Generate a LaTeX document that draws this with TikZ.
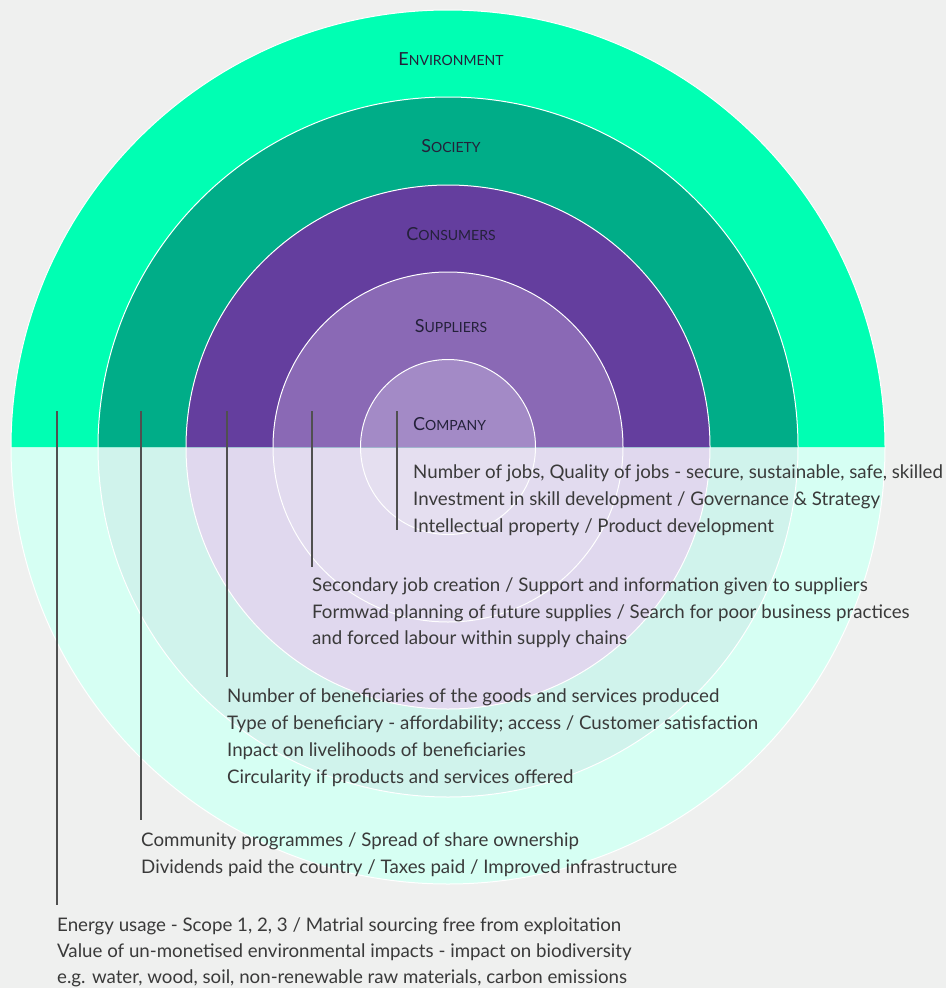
\documentclass[tikz,border=0pt]{standalone}
\usepackage{fontspec}
\setmainfont{Lato}
\definecolor{bg}{HTML}{EFF0EF}
\definecolor{envT}{HTML}{00FFB3}
\definecolor{socT}{HTML}{00AD88}
\definecolor{conT}{HTML}{643E9E}
\definecolor{supT}{HTML}{8A69B5}
\definecolor{comT}{HTML}{A38AC6}
\definecolor{envB}{HTML}{D6FFF3}
\definecolor{socB}{HTML}{D0F3EC}
\definecolor{conB}{HTML}{E0D8EE}
\definecolor{supB}{HTML}{E2DBEF}
\definecolor{comB}{HTML}{E5DFF0}
\definecolor{txt}{HTML}{3A3A3A}
\definecolor{head}{HTML}{24213A}
\definecolor{lead}{HTML}{505050}
\newcommand{\capsc}[2]{{\fontsize{18}{18}\selectfont #1}{\fontsize{14}{14}\selectfont #2}}
\tikzset{
  body/.style={anchor=base west, inner sep=0pt, text=txt, font=\fontsize{18.7}{20}\selectfont},
  heading/.style={anchor=base, inner sep=0pt, text=head},
  leader/.style={draw=lead, line width=1.1pt},
  ring/.style={draw=white, line width=1pt}
}
\begin{document}
\begin{tikzpicture}[x=1pt,y=-1pt]
\fill[bg] (0,0) rectangle (946,988);
\useasboundingbox (0,0) rectangle (946,988);
\coordinate (C) at (448,447);
% bottom halves
\fill[envB] (C) ++(0:437) arc (0:180:437) -- cycle;
\fill[socB] (C) ++(0:350) arc (0:180:350) -- cycle;
\fill[conB] (C) ++(0:262) arc (0:180:262) -- cycle;
\fill[supB] (C) ++(0:175) arc (0:180:175) -- cycle;
\fill[comB] (C) ++(0:87.5) arc (0:180:87.5) -- cycle;
% top halves
\fill[envT] (C) ++(180:437) arc (180:360:437) -- cycle;
\fill[socT] (C) ++(180:350) arc (180:360:350) -- cycle;
\fill[conT] (C) ++(180:262) arc (180:360:262) -- cycle;
\fill[supT] (C) ++(180:175) arc (180:360:175) -- cycle;
\fill[comT] (C) ++(180:87.5) arc (180:360:87.5) -- cycle;
% rings
\foreach \r in {437,350,262,175,87.5} \draw[ring] (C) circle (\r);
% headings
\node[heading] (hEnv) at (451,65) {\capsc{E}{NVIRONMENT}};
\node[heading] (hSoc) at (451,152) {\capsc{S}{OCIETY}};
\node[heading] (hCon) at (451,240) {\capsc{C}{ONSUMERS}};
\node[heading] (hSup) at (451,332) {\capsc{S}{UPPLIERS}};
\node[heading,anchor=base west] (hCom) at (413,430) {\capsc{C}{OMPANY}};
% company text
\node[body] (co1) at (413,478) {Number of jobs, Quality of jobs - secure, sustainable, safe, skilled};
\node[body] (co2) at (413,505) {Investment in skill development / Governance \& Strategy};
\node[body] (co3) at (413,532) {Intellectual property / Product development};
% suppliers text
\node[body] (su1) at (312,591) {Secondary job creation / Support and information given to suppliers};
\node[body] (su2) at (312,618) {Formwad planning of future supplies / Search for poor business practices};
\node[body] (su3) at (312,644) {and forced labour within supply chains};
% consumers text
\node[body] (cn1) at (227,702) {Number of beneficiaries of the goods and services produced};
\node[body] (cn2) at (227,729) {Type of beneficiary - affordability; access / Customer satisfaction};
\node[body] (cn3) at (227,756) {Inpact on livelihoods of beneficiaries};
\node[body] (cn4) at (227,783) {Circularity if products and services offered};
% society text
\node[body] (so1) at (141,846) {Community programmes / Spread of share ownership};
\node[body] (so2) at (141,873) {Dividends paid the country / Taxes paid / Improved infrastructure};
% environment text
\node[body] (en1) at (57,931) {Energy usage - Scope 1, 2, 3 / Matrial sourcing free from exploitation};
\node[body] (en2) at (57,957) {Value of un-monetised environmental impacts - impact on biodiversity};
\node[body] (en3) at (57,983) {e.g. water, wood, soil, non-renewable raw materials, carbon emissions};
% leaders
\coordinate (tCom) at (397,411);
\coordinate (tSup) at (312,411);
\coordinate (tCon) at (227,411);
\coordinate (tSoc) at (141,411);
\coordinate (tEnv) at (57,411);
\draw[leader] (tCom) -- ([yshift=2pt]tCom |- co3.base);
\draw[leader] (tSup) -- ([yshift=10pt]tSup |- su1.north);
\draw[leader] (tCon) -- ([yshift=11pt]tCon |- cn1.north);
\draw[leader] (tSoc) -- ([yshift=12pt]tSoc |- so1.north);
\draw[leader] (tEnv) -- ([yshift=12pt]tEnv |- en1.north);
\end{tikzpicture}
\end{document}
